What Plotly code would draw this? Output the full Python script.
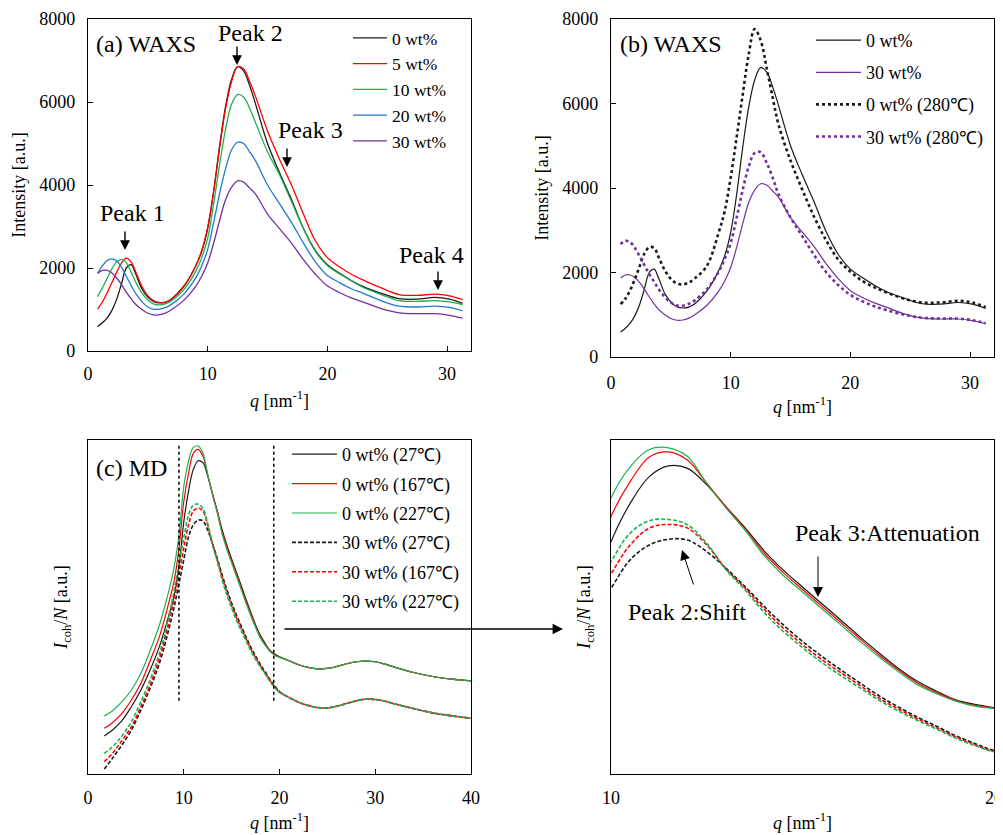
import plotly.graph_objects as go

# ---------------- (a)/(b) WAXS data ----------------
q_waxs = [0.8, 1.2, 1.6, 2.0, 2.4, 2.8, 3.2, 3.6, 4.0, 4.5, 5.0, 5.5, 6.0, 6.5, 7.0, 8.0, 9.0, 9.5,
          10.0, 10.5, 11.0, 11.5, 12.0, 12.5, 13.0, 13.5, 14.0, 15.0, 16.0, 17.0, 18.0, 19.0,
          20.0, 21.0, 22.0, 23.0, 24.5, 26.0, 27.5, 29.0, 30.2, 31.3]

I_0wt = [590, 680, 800, 980, 1250, 1620, 2000, 2080, 1850, 1500, 1300, 1190, 1160, 1180, 1260, 1560, 2050, 2400,
         2950, 3850, 4950, 5900, 6550, 6850, 6750, 6400, 5950, 5000, 4300, 3650, 2950, 2420,
         2080, 1880, 1700, 1550, 1390, 1260, 1250, 1290, 1250, 1150]
I_5wt = [1010, 1180, 1400, 1650, 1900, 2120, 2240, 2150, 1900, 1560, 1330, 1210, 1165, 1180, 1250, 1550, 2050, 2420,
         2980, 3850, 4900, 5850, 6500, 6850, 6800, 6500, 6130, 5300, 4620, 4000, 3300, 2650,
         2250, 2030, 1850, 1710, 1520, 1360, 1340, 1370, 1330, 1240]
I_10wt = [1310, 1520, 1750, 1980, 2150, 2210, 2130, 1900, 1650, 1400, 1230, 1130, 1110, 1140, 1210, 1480, 1920, 2250,
          2720, 3550, 4500, 5350, 5950, 6180, 6120, 5850, 5500, 4800, 4250, 3600, 2950, 2400,
          2060, 1860, 1690, 1530, 1360, 1215, 1195, 1215, 1185, 1120]
I_20wt = [1880, 2050, 2180, 2220, 2170, 2020, 1800, 1580, 1380, 1190, 1060, 1005, 1010, 1050, 1130, 1370, 1760, 2050,
          2450, 3100, 3800, 4400, 4850, 5030, 5000, 4800, 4580, 4000, 3550, 3100, 2600, 2150,
          1820, 1650, 1500, 1390, 1210, 1080, 1060, 1080, 1050, 970]
I_30wt = [1870, 1940, 1940, 1880, 1760, 1600, 1420, 1260, 1120, 1000, 910, 870, 875, 920, 1000, 1220, 1560, 1800,
          2120, 2600, 3150, 3650, 3950, 4100, 4070, 3930, 3780, 3300, 2950, 2600, 2200, 1850,
          1570, 1410, 1280, 1180, 1020, 920, 900, 900, 860, 790]
I_0wt_280 = [1250, 1380, 1580, 1850, 2150, 2450, 2600, 2580, 2350, 2050, 1850, 1740, 1720, 1760, 1860, 2150, 2950, 3450,
             4250, 5200, 6200, 7150, 7760, 7500, 6850, 6150, 5500, 4650, 3950, 3300, 2750, 2300,
             2020, 1800, 1650, 1530, 1380, 1290, 1290, 1330, 1290, 1180]
I_30wt_280 = [2670, 2750, 2720, 2580, 2380, 2170, 1960, 1780, 1600, 1420, 1290, 1220, 1215, 1260, 1340, 1600, 2020, 2320,
              2700, 3300, 3950, 4500, 4830, 4850, 4600, 4250, 3850, 3300, 2850, 2400, 2000, 1700,
              1470, 1320, 1200, 1110, 1000, 930, 910, 910, 870, 800]

# ---------------- (c)/(d) MD data ----------------
q_md = [1.7, 2.5, 3.5, 4.5, 5.5, 6.5, 7.5, 8.5, 9.0, 9.5, 10.0, 10.5, 11.0, 11.5, 12.0, 12.5, 13.0, 13.5,
        14.0, 14.5, 15.0, 15.5, 16.0, 16.5, 17.0, 17.5, 18.0, 18.5, 19.0, 19.5, 20.0,
        21, 22, 23, 24, 25, 26, 27, 28, 29, 30, 31, 32, 34, 36, 38, 40]

md_0wt_27 = [11.4, 13.0, 15.8, 20.0, 25.0, 31.2, 38.5, 48.0, 53.5, 62.0, 75.4, 84.7, 91.2, 93.8, 93.2, 89.2, 83.9, 78.8,
             73.2, 68.5, 64.4, 60.4, 56.4, 52.3, 48.4, 44.7, 41.5, 39.1, 37.0, 35.9, 35.1,
             33.9, 32.7, 31.9, 31.5, 31.6, 32.2, 33.0, 33.6, 33.8, 33.6, 32.9, 32.0, 30.4, 29.2, 28.4, 27.9]
md_0wt_167 = [13.7, 15.2, 18.0, 22.0, 27.0, 34.0, 41.5, 52.0, 58.0, 67.5, 81.5, 90.0, 96.0, 97.2, 95.2, 89.6, 83.9, 78.6,
              72.6, 67.9, 63.8, 59.8, 55.8, 51.8, 47.9, 44.3, 41.1, 38.8, 36.85, 35.7, 35.0,
              33.9, 32.7, 31.9, 31.5, 31.6, 32.2, 33.0, 33.6, 33.8, 33.6, 32.9, 32.0, 30.4, 29.2, 28.4, 27.9]
md_0wt_227 = [17.4, 18.8, 21.5, 25.0, 30.0, 37.0, 45.0, 55.5, 62.0, 71.5, 86.0, 93.6, 97.8, 98.2, 96.1, 89.6, 83.6, 78.2,
              72.0, 67.2, 63.2, 59.2, 55.2, 51.2, 47.4, 43.9, 40.7, 38.5, 36.7, 35.5, 34.9,
              33.9, 32.7, 31.9, 31.5, 31.6, 32.2, 33.0, 33.6, 33.8, 33.6, 32.9, 32.0, 30.4, 29.2, 28.4, 27.9]
md_30wt_27 = [1.5, 4.5, 8.5, 13.0, 19.0, 25.8, 33.5, 44.0, 50.0, 57.0, 64.1, 71.0, 74.6, 76.0, 75.8, 73.0, 69.0, 64.5,
              59.7, 55.2, 51.2, 47.6, 44.3, 41.1, 38.0, 35.3, 32.8, 30.6, 28.3, 26.4, 24.7,
              22.9, 21.5, 20.5, 19.9, 19.8, 20.3, 21.1, 21.9, 22.4, 22.3, 21.8, 21.0, 19.6, 18.3, 17.4, 16.7]
md_30wt_167 = [3.7, 6.0, 9.8, 14.0, 20.0, 26.8, 35.0, 46.0, 52.5, 60.0, 67.6, 74.6, 78.7, 79.6, 78.7, 74.6, 68.8, 64.1,
               59.0, 54.4, 50.4, 46.8, 43.6, 40.5, 37.4, 34.8, 32.4, 30.2, 28.0, 26.1, 24.5,
               22.9, 21.5, 20.5, 19.9, 19.8, 20.3, 21.1, 21.9, 22.4, 22.3, 21.8, 21.0, 19.6, 18.3, 17.4, 16.7]
md_30wt_227 = [6.2, 8.0, 11.2, 15.5, 21.5, 28.3, 36.5, 48.0, 55.0, 63.0, 70.6, 77.5, 80.5, 80.8, 79.5, 75.0, 68.6, 63.7,
               58.2, 53.6, 49.7, 46.1, 42.9, 39.9, 36.9, 34.3, 32.0, 29.9, 27.7, 25.9, 24.4,
               22.9, 21.5, 20.5, 19.9, 19.8, 20.3, 21.1, 21.9, 22.4, 22.3, 21.8, 21.0, 19.6, 18.3, 17.4, 16.7]

labels_a = ["0 wt%", "5 wt%", "10 wt%", "20 wt%", "30 wt%"]
labels_b = ["0 wt%", "30 wt%", "0 wt% (280℃)", "30 wt% (280℃)"]
labels_c = ["0 wt% (27℃)", "0 wt% (167℃)", "0 wt% (227℃)",
            "30 wt% (27℃)", "30 wt% (167℃)", "30 wt% (227℃)"]

BLACK = "#1a1a1a"
RED = "#ff0000"
GREEN = "#1fb04f"
BLUE = "#1f78d1"
PURPLE = "#7030a0"
FONT = "Liberation Serif"

# page body has an 8px margin: the figure is offset by OFF pixels
OFF = 8
W, H = 1003 - OFF, 835 - OFF
def px(x):
    return (x - OFF) / W
def py(y):
    return 1 - (y - OFF) / H

fig = go.Figure()

# (a)
for i, (lab, ys, col) in enumerate(zip(labels_a, [I_0wt, I_5wt, I_10wt, I_20wt, I_30wt],
                                       [BLACK, RED, GREEN, BLUE, PURPLE])):
    fig.add_trace(go.Scatter(x=q_waxs, y=ys, mode="lines", name=lab, xaxis="x", yaxis="y",
                             legendgroup=f"a{i}",
                             line=dict(color=col, width=1.3, shape="spline"), legend="legend"))

# (b)
for i, (lab, ys, col, dash, w) in enumerate(zip(labels_b, [I_0wt, I_30wt, I_0wt_280, I_30wt_280],
                                                [BLACK, PURPLE, BLACK, PURPLE],
                                                ["solid", "solid", "dot", "dot"], [1.2, 1.2, 2.6, 2.6])):
    fig.add_trace(go.Scatter(x=q_waxs, y=ys, mode="lines", name=lab, xaxis="x2", yaxis="y2",
                             legendgroup=f"b{i}",
                             line=dict(color=col, width=w, dash=dash, shape="spline"), legend="legend2"))

md_series = [md_0wt_27, md_0wt_167, md_0wt_227, md_30wt_27, md_30wt_167, md_30wt_227]
md_cols = [BLACK, RED, GREEN, BLACK, RED, GREEN]
md_dash = ["solid", "solid", "solid", "4px,2px", "4px,2px", "4px,2px"]
md_w = [1.2, 1.2, 1.2, 1.6, 1.6, 1.6]

# (c)
for i, (lab, ys, col, dash, w) in enumerate(zip(labels_c, md_series, md_cols, md_dash, md_w)):
    fig.add_trace(go.Scatter(x=q_md, y=ys, mode="lines", name=lab, xaxis="x3", yaxis="y3",
                             legendgroup=f"c{i}",
                             line=dict(color=col, width=w, dash=dash, shape="spline"), legend="legend3"))
# (d)
for lab, ys, col, dash, w in zip(labels_c, md_series, md_cols, md_dash, md_w):
    fig.add_trace(go.Scatter(x=q_md, y=ys, mode="lines", name=lab, xaxis="x4", yaxis="y4",
                             line=dict(color=col, width=w, dash=dash, shape="spline"), showlegend=False))

ax_common = dict(showline=True, linecolor="black", linewidth=1.3, mirror=True, ticks="inside",
                 ticklen=5, tickcolor="black", showgrid=False, zeroline=False,
                 tickfont=dict(family=FONT, size=18, color="black"), automargin=False)
def xtitle(st):
    return dict(text="<i>q</i> [nm<sup>-1</sup>]", font=dict(family=FONT, size=18, color="black"),
                standoff=st)

fig.update_layout(
    width=W, height=H, autosize=False,
    margin=dict(l=0, r=0, t=0, b=0),
    paper_bgcolor="white", plot_bgcolor="white",
    font=dict(family=FONT, size=18, color="black"),
    xaxis=dict(ax_common, domain=[px(88), px(471)], anchor="y", range=[0, 32], dtick=10,
               title=xtitle(11), ticklabelstandoff=6),
    yaxis=dict(ax_common, domain=[py(351), py(19)], anchor="x", range=[0, 8000], dtick=2000,
               title=dict(text="Intensity [a.u.]", font=dict(family=FONT, size=18), standoff=8),
               ticklabelstandoff=8),
    xaxis2=dict(ax_common, domain=[px(611), px(994)], anchor="y2", range=[0, 32], dtick=10,
                title=xtitle(8), ticklabelstandoff=9),
    yaxis2=dict(ax_common, domain=[py(357), py(19)], anchor="x2", range=[0, 8000], dtick=2000,
                title=dict(text="Intensity [a.u.]", font=dict(family=FONT, size=18), standoff=8),
                ticklabelstandoff=8),
    xaxis3=dict(ax_common, domain=[px(88), px(471)], anchor="y3", range=[0, 40], dtick=10,
                title=xtitle(9), ticklabelstandoff=7),
    yaxis3=dict(ax_common, domain=[py(774), py(440)], anchor="x3", range=[0, 100],
                showticklabels=False, ticks="",
                title=dict(text="<i>I</i><sub>coh</sub>/<i>N</i> [a.u.]",
                           font=dict(family=FONT, size=18), standoff=14)),
    xaxis4=dict(ax_common, domain=[px(611), px(994)], anchor="y4", range=[10, 20], dtick=10,
                ticks="", title=xtitle(9), ticklabelstandoff=7),
    yaxis4=dict(ax_common, domain=[py(774), py(440)], anchor="x4", range=[19, 100.1],
                showticklabels=False, ticks="",
                title=dict(text="<i>I</i><sub>coh</sub>/<i>N</i> [a.u.]",
                           font=dict(family=FONT, size=18), standoff=14)),
    legend=dict(x=px(348), y=py(20), xanchor="left", yanchor="top", bgcolor="rgba(0,0,0,0)",
                font=dict(family=FONT, size=17.5), itemwidth=34, traceorder="grouped",
                tracegroupgap=0),
    legend2=dict(x=px(811), y=py(22), xanchor="left", yanchor="top", bgcolor="rgba(0,0,0,0)",
                 font=dict(family=FONT, size=18), itemwidth=45, traceorder="grouped",
                 tracegroupgap=5.7),
    legend3=dict(x=px(287), y=py(436), xanchor="left", yanchor="top", bgcolor="rgba(0,0,0,0)",
                 font=dict(family=FONT, size=18), itemwidth=45, traceorder="grouped",
                 tracegroupgap=3),
)

ann_font = dict(family=FONT, size=24, color="black")
annotations = [
    dict(text="(a) WAXS", x=px(94), y=py(44), xanchor="left", showarrow=False, font=ann_font),
    dict(text="(b) WAXS", x=px(618), y=py(44), xanchor="left", showarrow=False, font=ann_font),
    dict(text="(c) MD", x=px(94), y=py(468), xanchor="left", showarrow=False, font=ann_font),
    dict(text="Peak 2", x=px(250), y=py(33), xanchor="center", showarrow=False, font=ann_font),
    dict(text="Peak 3", x=px(310), y=py(130), xanchor="center", showarrow=False, font=ann_font),
    dict(text="Peak 1", x=px(133), y=py(213), xanchor="center", showarrow=False, font=ann_font),
    dict(text="Peak 4", x=px(431), y=py(255), xanchor="center", showarrow=False, font=ann_font),
    dict(text="Peak 3:Attenuation", x=px(887), y=py(533), xanchor="center", showarrow=False,
         font=ann_font),
    dict(text="Peak 2:Shift", x=px(687), y=py(612), xanchor="center", showarrow=False,
         font=ann_font),
]
for a in annotations:
    a.update(xref="paper", yref="paper", yanchor="middle")

arrow_style = dict(text="", showarrow=True, arrowhead=2, arrowsize=1.4, arrowwidth=1.4,
                   arrowcolor="black", xref="paper", yref="paper", axref="pixel", ayref="pixel")
for (tx, ty, dxp, dyp) in [(237, 65, 0, -20), (287, 167, 0, -20), (125, 250, 0, -20),
                           (438, 290, 0, -20), (818, 597, 0, -42), (682, 550, 12, 36),
                           (563, 629, -280, 0)]:
    a = dict(arrow_style, x=px(tx), y=py(ty), ax=dxp, ay=dyp)
    if dyp == -42 or dxp == 12:
        a["arrowwidth"] = 1.0
        a["arrowsize"] = 2.0
    if dxp == -280:
        a["arrowwidth"] = 1.6
        a["arrowsize"] = 1.3
    annotations.append(a)
fig.update_layout(annotations=annotations)

# vertical dotted guide lines in (c)
for qv in [9.5, 19.4]:
    fig.add_shape(type="line", xref="x3", yref="y3", x0=qv, x1=qv, y0=21.9, y1=99.1,
                  line=dict(color="black", width=1.5, dash="dot"))

fig.write_html("out.html")
